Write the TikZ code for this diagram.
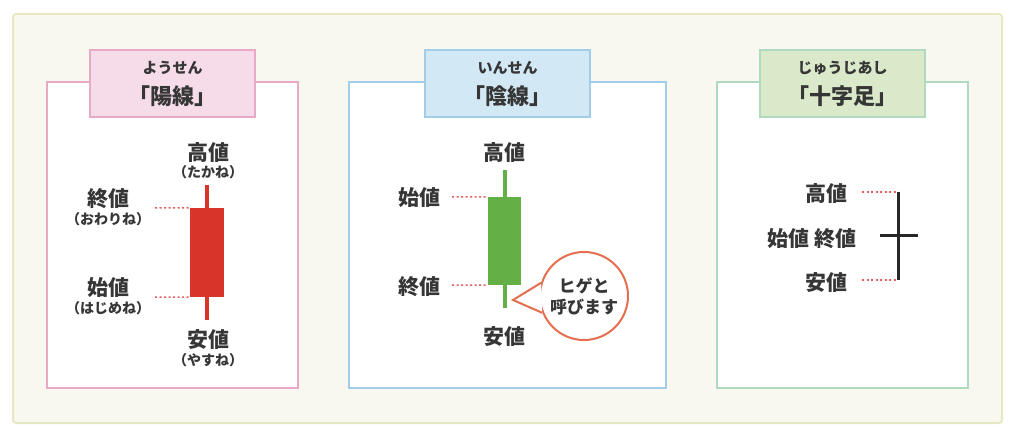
\documentclass[tikz,border=0pt]{standalone}
\usepackage{fontspec}
\setmainfont{Noto Sans CJK JP}
\usetikzlibrary{positioning}

\definecolor{bgcream}{HTML}{F8F8F0}
\definecolor{bgline}{HTML}{E6E8C4}
\definecolor{pinkline}{HTML}{E7A9C5}
\definecolor{pinkfill}{HTML}{F5DCE8}
\definecolor{blueline}{HTML}{A2CDE8}
\definecolor{bluefill}{HTML}{D3E8F5}
\definecolor{greenline}{HTML}{B0DABF}
\definecolor{greenfill}{HTML}{D9E9C9}
\definecolor{candlered}{HTML}{D8342A}
\definecolor{candlegreen}{HTML}{64B046}
\definecolor{dotred}{HTML}{E26060}
\definecolor{bubbleline}{HTML}{E2704F}
\definecolor{txt}{HTML}{363636}

\begin{document}
\begin{tikzpicture}[
        x=1pt, y=-1pt,
        every node/.style={text=txt, inner sep=0pt},
        panel/.style={draw=#1, line width=2pt, fill=white, minimum width=251pt, minimum height=306pt},
        titlebox/.style 2 args={draw=#1, fill=#2, line width=2pt, minimum width=165pt, minimum height=67pt},
        ruby/.style={font=\fontsize{15}{17}\selectfont\bfseries},
        ttl/.style={font=\fontsize{22}{24}\selectfont\bfseries},
        lab/.style={font=\fontsize{21}{24}\selectfont\bfseries},
        kana/.style={font=\fontsize{14}{16}\selectfont\bfseries},
        guide/.style={draw=dotred, line width=1.5pt, dash pattern=on 2pt off 2.5pt},
        wick/.style={line width=4pt}
    ]
        \useasboundingbox (0,0) rectangle (1024,435);
        \draw[bgline, fill=bgcream, line width=2pt, rounded corners=3pt] (13,14) rectangle (1002,423);

        % panels
        \node[panel=pinkline] (p1) at (172.5,235) {};
        \node[panel=blueline, minimum width=317pt] (p2) at (507.5,235) {};
        \node[panel=greenline] (p3) at (842.5,235) {};
        \node[titlebox={pinkline}{pinkfill}] (t1) at (172.5,83.5) {};
        \node[titlebox={blueline}{bluefill}] (t2) at (507.5,83.5) {};
        \node[titlebox={greenline}{greenfill}] (t3) at (842.5,83.5) {};
        \node[ruby] (r1) at (172.5,68) {ようせん};
        \node[ttl] (n1) at (172.5,96) {「陽線」};
        \node[ruby] (r2) at (507.5,68) {いんせん};
        \node[ttl] (n2) at (507.5,96) {「陰線」};
        \node[ruby] (r3) at (842.5,68) {じゅうじあし};
        \node[ttl] (n3) at (842.5,96) {「十字足」};

        % yousen
        \coordinate (top1) at (207,185);
        \coordinate (bot1) at (207,320);
        \draw[wick, candlered] (top1) -- (bot1);
        \node[fill=candlered, minimum width=34pt, minimum height=89pt] (body1) at (207,252.5) {};
        \node[lab] (hi1) at (208,153) {高値};
        \node[kana] (hik1) at (208,172) {（たかね）};
        \node[lab] (cl1) at (108,199) {終値};
        \node[kana] (clk1) at (108,219) {（おわりね）};
        \node[lab] (op1) at (108,288) {始値};
        \node[kana] (opk1) at (108,308) {（はじめね）};
        \node[lab] (lo1) at (208,340) {安値};
        \node[kana] (lok1) at (208,360) {（やすね）};
        \coordinate (g11) at (155,208);
        \coordinate (g12) at (155,297);
        \draw[guide] (g11) -- (body1.north west);
        \draw[guide] (g12) -- (body1.south west);

        % insen
        \coordinate (top2) at (504.5,170);
        \coordinate (bot2) at (504.5,308);
        \draw[wick, candlegreen] (top2) -- (bot2);
        \node[fill=candlegreen, minimum width=33pt, minimum height=88pt] (body2) at (504.5,241) {};
        \node[lab] (hi2) at (504,153) {高値};
        \node[lab] (op2) at (419,198) {始値};
        \node[lab] (cl2) at (419,287) {終値};
        \node[lab] (lo2) at (504,337) {安値};
        \coordinate (g21) at (452,197);
        \coordinate (g22) at (452,285);
        \draw[guide] (g21) -- (body2.north west);
        \draw[guide] (g22) -- (body2.south west);
        \node[circle, draw=bubbleline, fill=white, line width=2pt, minimum size=88pt,
            align=center, font=\fontsize{17}{21}\selectfont\bfseries] (bub) at (584,296) {ヒゲと\\呼びます};
        \coordinate (tip) at (513,300);
        \fill[white] (bub.163) -- (tip) -- (bub.202) -- cycle;
        \draw[bubbleline, line width=2pt, line join=miter] (bub.163) -- (tip) -- (bub.202);

        % juujiashi
        \coordinate (top3) at (898,192);
        \coordinate (bot3) at (898,280);
        \coordinate (left3) at (880,236);
        \coordinate (right3) at (918,236);
        \draw[line width=3pt, black!85] (top3) -- (bot3) (left3) -- (right3);
        \node[lab] (hi3) at (826,194) {高値};
        \node[lab] (oc3) at (812,239) {始値 終値};
        \node[lab] (lo3) at (826,283) {安値};
        \coordinate (g31) at (862,192);
        \coordinate (g32) at (862,280);
        \draw[guide] (g31) -- (top3);
        \draw[guide] (g32) -- (bot3);
\end{tikzpicture}
\end{document}
